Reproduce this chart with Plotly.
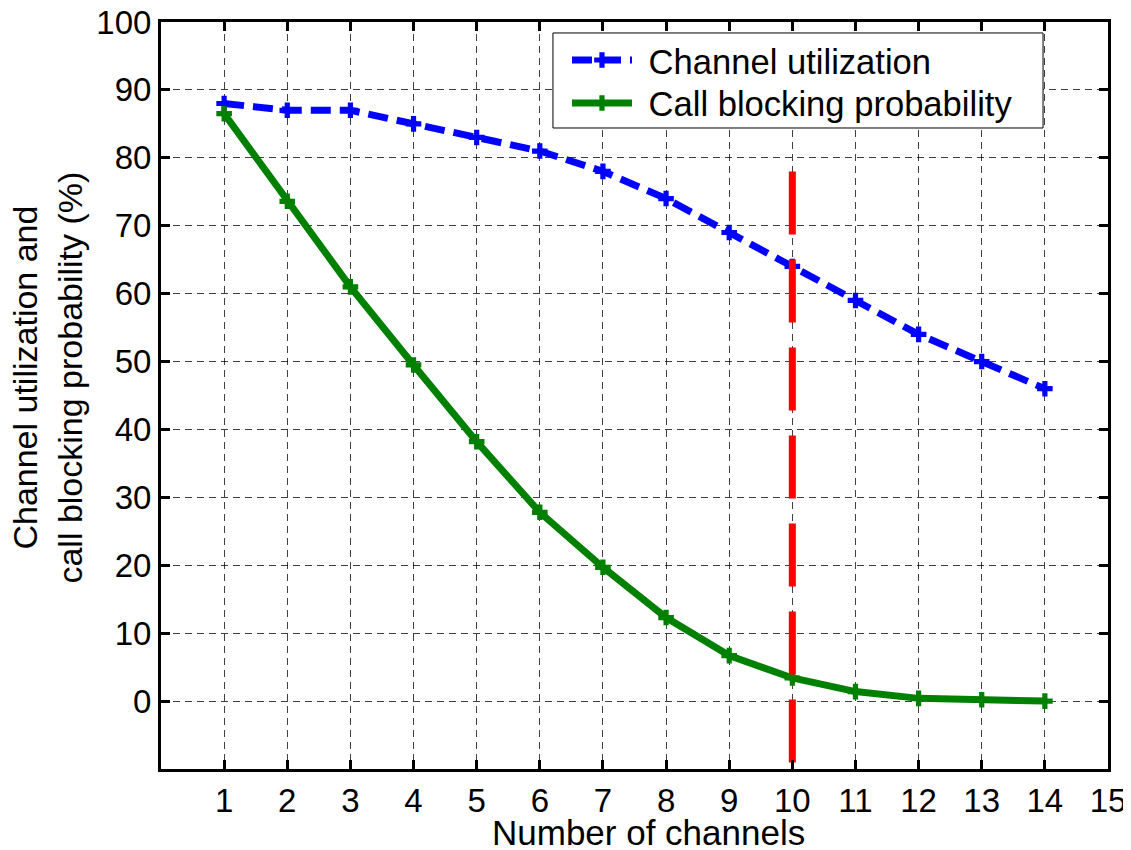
import plotly.graph_objects as go

channels = list(range(1, 15))
utilization = [88, 87, 87, 85, 83, 81, 78, 74, 69, 64, 59, 54, 50, 46]
blocking = [86.5, 73.6, 61, 49.5, 38.2, 27.8, 19.7, 12.3, 6.7, 3.4, 1.4, 0.4, 0.2, 0.0]
threshold_x = [10, 10]
threshold_y = [78, -10]
x_ticks = list(range(1, 16))
y_ticks = list(range(0, 101, 10))

FONT = "Liberation Sans, Arial, sans-serif"
PAD = "\u2004"

fig = go.Figure()
fig.add_trace(go.Scatter(
    x=channels, y=utilization, mode="lines+markers", name=PAD + "Channel utilization",
    line=dict(color="rgb(0,0,255)", width=7, dash="20px,9px"),
    marker=dict(symbol="cross", size=13, color="rgb(0,0,255)"),
    legend="legend",
))
fig.add_trace(go.Scatter(
    x=channels, y=blocking, mode="lines+markers", name=PAD + "Call blocking probability",
    line=dict(color="rgb(0,128,0)", width=7),
    marker=dict(symbol="cross", size=13, color="rgb(0,128,0)"),
    legend="legend2",
))
fig.add_trace(go.Scatter(
    x=threshold_x, y=threshold_y, mode="lines", showlegend=False,
    line=dict(color="rgb(255,0,0)", width=7, dash="63px,25px"),
))

axis_common = dict(
    showline=True, linecolor="black", linewidth=3, mirror="ticks",
    ticks="inside", ticklen=9, tickwidth=3, tickcolor="black",
    showgrid=True, gridcolor="rgba(0,0,0,0.75)", gridwidth=1, griddash="7px,5px",
    zeroline=False, automargin=False, ticklabeloverflow="allow",
    tickfont=dict(family=FONT, size=33, color="black"),
)

fig.update_xaxes(range=[0, 15], tickmode="array", tickvals=x_ticks,
                 ticktext=[str(v) for v in x_ticks], **axis_common)
fig.update_yaxes(range=[-10, 100], tickmode="array", tickvals=y_ticks,
                 ticktext=[str(v) for v in y_ticks], **axis_common)

legend_common = dict(xanchor="left", yanchor="middle",
                     bgcolor="rgba(0,0,0,0)", borderwidth=0,
                     font=dict(family=FONT, size=34.6, color="black"),
                     itemwidth=60)

fig.update_layout(
    width=1123, height=842,
    margin=dict(l=153, r=23, t=14, b=81, autoexpand=False),
    plot_bgcolor="white", paper_bgcolor="white",
    font=dict(family=FONT, color="black"),
    showlegend=True,
    legend=dict(x=0.4287, y=0.9491, **legend_common),
    legend2=dict(x=0.4287, y=0.8916, **legend_common),
    shapes=[dict(type="rect", xref="paper", yref="paper",
                 x0=0.4139, x1=0.9314, y0=0.8581, y1=0.9853,
                 line=dict(color="black", width=1), fillcolor="white",
                 layer="above")],
    annotations=[
        dict(text="Number of channels", xref="paper", yref="paper",
             x=0.5148, y=-0.0853, xanchor="center", yanchor="middle",
             showarrow=False, font=dict(family=FONT, size=35, color="black")),
        dict(text="Channel utilization and",
             xref="paper", yref="paper", x=-0.1436, y=0.524,
             xanchor="center", yanchor="middle", textangle=-90,
             showarrow=False, font=dict(family=FONT, size=34, color="black")),
        dict(text="call blocking probability (%)",
             xref="paper", yref="paper", x=-0.0961, y=0.524,
             xanchor="center", yanchor="middle", textangle=-90,
             showarrow=False, font=dict(family=FONT, size=34, color="black")),
    ],
)

fig.write_html("out.html")
